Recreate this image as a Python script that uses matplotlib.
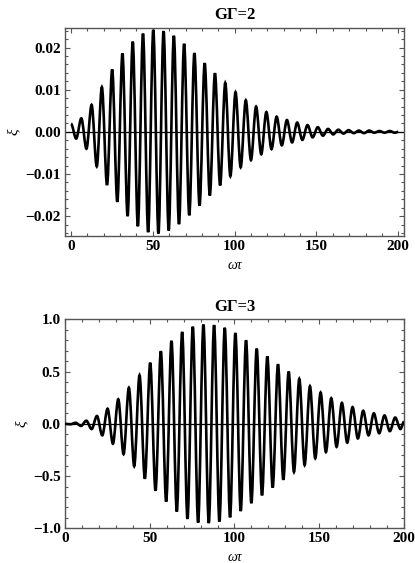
import matplotlib

matplotlib.use("Agg")
import matplotlib.pyplot as plt
from matplotlib.patches import PathPatch
from matplotlib.path import Path
from matplotlib.ticker import FuncFormatter, MultipleLocator

plt.rcParams["font.family"] = ["Liberation Serif", "DejaVu Serif"]
plt.rcParams["font.weight"] = "bold"

# turning points of the oscillation (omega*tau), last one = end of curve
turn_t = [
    0.0, 3.14, 6.28, 9.42, 12.57, 15.71, 18.85, 21.99, 25.13, 28.27,
    31.42, 34.56, 37.70, 40.84, 43.98, 47.12, 50.27, 53.41, 56.55, 59.69,
    62.83, 65.97, 69.12, 72.26, 75.40, 78.54, 81.68, 84.82, 87.96, 91.11,
    94.25, 97.39, 100.53, 103.67, 106.81, 109.96, 113.10, 116.24, 119.38, 122.52,
    125.66, 128.81, 131.95, 135.09, 138.23, 141.37, 144.51, 147.65, 150.80, 153.94,
    157.08, 160.22, 163.36, 166.50, 169.65, 172.79, 175.93, 179.07, 182.21, 185.35,
    188.50, 191.64, 194.78, 197.92, 200.0,
]

# xi at each turning point, G*Gamma = 2
xi_g2 = [
    0.0019, -0.0016, 0.0032, -0.0040, 0.0064, -0.0082, 0.0106, -0.0126, 0.0148, -0.0166,
    0.0186, -0.0200, 0.0214, -0.0224, 0.0233, -0.0238, 0.0242, -0.0241, 0.0239, -0.0234,
    0.0228, -0.0219, 0.0209, -0.0198, 0.0187, -0.0175, 0.0163, -0.0151, 0.0139, -0.0127,
    0.0116, -0.0105, 0.0094, -0.0084, 0.0075, -0.0067, 0.0060, -0.0053, 0.0047, -0.0041,
    0.0036, -0.0032, 0.0028, -0.0025, 0.0022, -0.0019, 0.0016, -0.0013, 0.0011, -0.0009,
    0.0007, -0.0006, 0.0005, -0.0004, 0.0004, -0.0003, 0.0003, -0.0003, 0.0003, -0.0002,
    0.0002, -0.0002, 0.0002, -0.0002, 0.0,
]

# xi at each turning point, G*Gamma = 3
xi_g3 = [
    0.0, -0.004, 0.01, -0.02, 0.03, -0.05, 0.075, -0.11, 0.145, -0.19,
    0.235, -0.29, 0.345, -0.405, 0.465, -0.525, 0.585, -0.64, 0.695, -0.745,
    0.795, -0.84, 0.88, -0.91, 0.93, -0.945, 0.95, -0.95, 0.945, -0.935,
    0.92, -0.895, 0.87, -0.835, 0.80, -0.76, 0.72, -0.685, 0.645, -0.61,
    0.57, -0.535, 0.50, -0.46, 0.43, -0.395, 0.36, -0.33, 0.30, -0.27,
    0.245, -0.22, 0.20, -0.18, 0.16, -0.14, 0.125, -0.11, 0.10, -0.09,
    0.08, -0.07, 0.06, -0.05, 0.02,
]

x_ticks = [0, 50, 100, 150, 200]


def wave_path(t, v):
    # smooth bezier through the turning points (flat tangent at each one)
    verts = [(t[0], v[0])]
    codes = [Path.MOVETO]
    for i in range(1, len(t)):
        h = t[i] - t[i - 1]
        verts += [(t[i - 1] + h / 3, v[i - 1]), (t[i] - h / 3, v[i]), (t[i], v[i])]
        codes += [Path.CURVE4] * 3
    return Path(verts, codes)


def fmt(decimals):
    def f(val, pos):
        s = f"{val:.{decimals}f}"
        if float(s) == 0:
            s = s.lstrip("-")
        return s.replace("-", "\u2212")

    return FuncFormatter(f)


def draw_panel(ax, t, v, title, xlim, ylim, ymajor, yminor, ydec):
    ax.add_patch(PathPatch(wave_path(t, v), fill=False, lw=1.9, ec="black", zorder=3))
    ax.axhline(0, color="black", lw=0.9, zorder=2)
    ax.set_xlim(*xlim)
    ax.set_ylim(*ylim)
    ax.set_xticks(x_ticks)
    ax.xaxis.set_minor_locator(MultipleLocator(10))
    ax.yaxis.set_major_locator(MultipleLocator(ymajor))
    ax.yaxis.set_minor_locator(MultipleLocator(yminor))
    ax.yaxis.set_major_formatter(fmt(ydec))
    ax.tick_params(which="both", direction="in", top=True, right=True,
                   color="#555555", width=0.8, labelsize=11)
    ax.tick_params(which="major", length=3.5, pad=3)
    ax.tick_params(which="minor", length=2)
    for sp in ax.spines.values():
        sp.set_color("#555555")
        sp.set_linewidth(1.0)
    ax.set_title(title, fontsize=12, fontweight="bold", pad=6)
    ax.set_xlabel("ωτ", fontsize=10, style="italic", fontweight="normal", labelpad=4)
    ax.set_ylabel("ξ", fontsize=11, style="italic", fontweight="normal", labelpad=4)


fig = plt.figure(figsize=(4.15, 5.63), dpi=100)
ax1 = fig.add_axes([0.1566, 0.5808, 0.8169, 0.3700])
ax2 = fig.add_axes([0.1566, 0.0616, 0.8169, 0.3712])

draw_panel(ax1, turn_t, xi_g2, "GΓ=2", (-3.7, 203.5), (-0.0247, 0.0247), 0.01, 0.002, 2)
draw_panel(ax2, turn_t, xi_g3, "GΓ=3", (0, 200), (-1.0, 1.0), 0.5, 0.1, 1)

fig.savefig("out.png", dpi=100)
